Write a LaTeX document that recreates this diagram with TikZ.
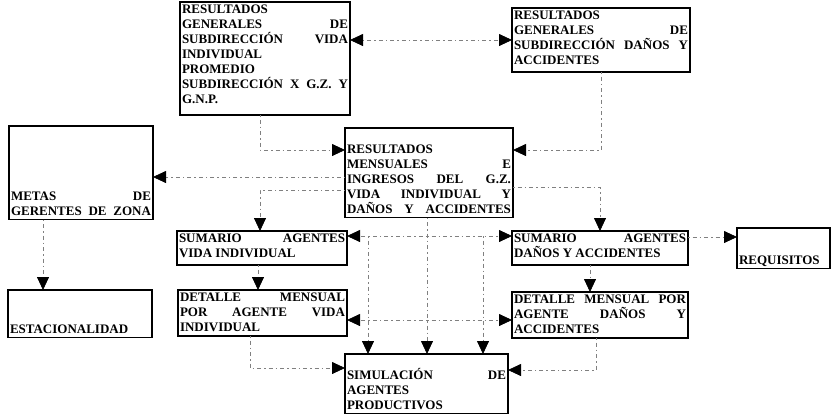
\documentclass[tikz,border=0pt]{standalone}
\usepackage{fontspec}
\setmainfont{Liberation Serif}
\usetikzlibrary{arrows.meta}
\newcommand\topst{\rule{0pt}{9.5pt}}
\newcommand\botst{\rule[-2.5pt]{0pt}{2.5pt}}
\newcommand\bt[4]{\parbox[c][#2pt][#3]{#1pt}{\raggedright\fontsize{13}{15}\selectfont\bfseries\topst #4\botst}}
\begin{document}
\begin{tikzpicture}[x=1pt,y=-1pt,
  box/.style={draw, line width=1.3pt, inner sep=2pt, outer sep=0pt, anchor=north west},
  conn/.style={draw=black!50, line width=0.8pt, dash pattern=on 1.5pt off 3pt on 4pt off 3pt},
  >={Triangle[length=13pt,width=12pt,color=black]}]
\useasboundingbox (0,0) rectangle (833,413);

\node[box] (rgsvi) at (180,2) {\bt{166}{109}{t}{RESULTADOS\\ GENERALES\hfill DE\\ SUBDIRECCIÓN\hfill VIDA\\ INDIVIDUAL\\ PROMEDIO\\ SUBDIRECCIÓN\hfill X\hfill G.Z.\hfill Y\\ G.N.P.}};
\node[box] (rgsda) at (512,8) {\bt{174}{60}{t}{RESULTADOS\\ GENERALES\hfill DE\\ SUBDIRECCIÓN\hfill DAÑOS\hfill Y\\ ACCIDENTES}};
\node[box] (metas) at (9,126) {\bt{140}{87}{b}{METAS\hfill DE\\ GERENTES\hfill DE\hfill ZONA}};
\node[box] (rmi) at (345,128) {\bt{164}{83}{b}{RESULTADOS\\ MENSUALES\hfill E\\ INGRESOS\hfill DEL\hfill G.Z.\\ VIDA\hfill INDIVIDUAL\hfill Y\\ DAÑOS\hfill Y\hfill ACCIDENTES}};
\node[box] (savi) at (177,231) {\bt{166}{30}{t}{SUMARIO\hfill AGENTES\\ VIDA INDIVIDUAL}};
\node[box] (sada) at (512,231) {\bt{172}{30}{t}{SUMARIO\hfill AGENTES\\ DAÑOS Y ACCIDENTES}};
\node[box] (req) at (737,228) {\bt{89}{34}{b}{REQUISITOS}};
\node[box] (est) at (8,290) {\bt{140}{41}{b}{ESTACIONALIDAD}};
\node[box] (dmvi) at (178,290) {\bt{165}{42}{t}{DETALLE\hfill MENSUAL\\ POR\hfill AGENTE\hfill VIDA\\ INDIVIDUAL}};
\node[box] (dmda) at (512,292) {\bt{172}{42}{t}{DETALLE\hfill MENSUAL\hfill POR\\ AGENTE\hfill DAÑOS\hfill Y\\ ACCIDENTES}};
\node[box] (sim) at (345,354) {\bt{159}{53}{b}{SIMULACIÓN\hfill DE\\ AGENTES\\ PRODUCTIVOS}};

\coordinate (hubA) at (427,236);
\coordinate (hubB) at (427,320);
\coordinate (dropL) at (368,236);
\coordinate (dropR) at (483,236);

\draw[conn,<->] (rgsvi.east |- 0,40) -- (rgsda.west |- 0,40);
\draw[conn,->] (rgsda.south) |- (rmi.east |- 0,150);
\draw[conn,->] (rgsvi.south -| 260,0) |- (rmi.west |- 0,150);
\draw[conn,->] (rmi.west |- 0,177) -- (metas.east |- 0,177);
\draw[conn,->] (rmi.west |- 0,190) -| (savi.north -| 260,0);
\draw[conn,->] (rmi.east |- 0,187) -| (sada.north -| 600,0);
\draw[conn,->] (sada.east |- 0,237) -- (req.west |- 0,237);
\draw[conn,->] (metas.south -| 43,0) -- (est.north -| 43,0);
\draw[conn,->] (savi.south -| 258,0) -- (dmvi.north -| 258,0);
\draw[conn,->] (sada.south -| 590,0) -- (dmda.north -| 590,0);
\draw[conn,->] (rmi.south -| hubA) -- (sim.north -| hubA);
\draw[conn,->] (hubA) -- (savi.east |- hubA);
\draw[conn,->] (hubA) -- (sada.west |- hubA);
\draw[conn,->] (hubB) -- (dmvi.east |- hubB);
\draw[conn,->] (hubB) -- (dmda.west |- hubB);
\draw[conn,->] (dropL) -- (sim.north -| dropL);
\draw[conn,->] (dropR) -- (sim.north -| dropR);
\draw[conn,->] (dmvi.south -| 250,0) |- (sim.west |- 0,368);
\draw[conn,->] (dmda.south -| 596,0) |- (sim.east |- 0,370);
\end{tikzpicture}
\end{document}
